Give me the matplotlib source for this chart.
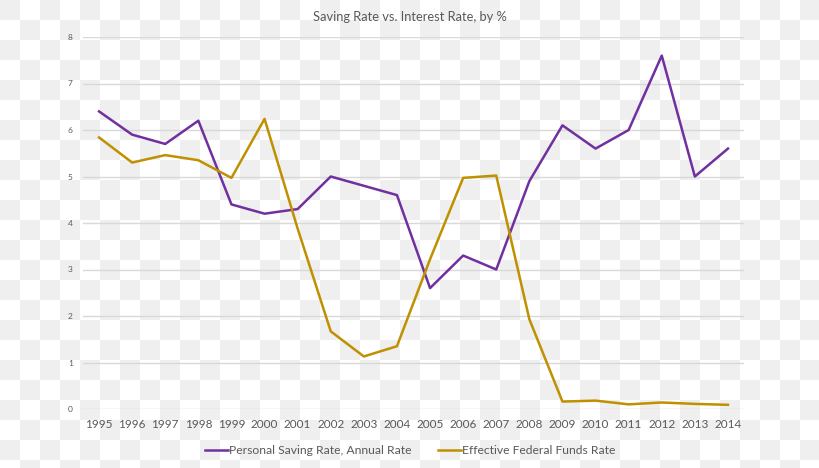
import numpy as np
import matplotlib
matplotlib.use("Agg")
import matplotlib.pyplot as plt

years = [str(y) for y in range(1995, 2015)]
saving_rate = [6.4, 5.9, 5.7, 6.2, 4.4, 4.2, 4.3, 5.0, 4.8, 4.6,
               2.6, 3.3, 3.0, 4.9, 6.1, 5.6, 6.0, 7.6, 5.0, 5.6]
fed_funds = [5.84, 5.30, 5.46, 5.35, 4.97, 6.24, 3.88, 1.67, 1.13, 1.35,
             3.22, 4.97, 5.02, 1.93, 0.16, 0.18, 0.10, 0.14, 0.11, 0.09]
y_ticks = [0, 1, 2, 3, 4, 5, 6, 7, 8]

plt.rcParams["font.family"] = ["Lato", "DejaVu Sans"]

W, H = 820, 468
fig = plt.figure(figsize=(W / 100, H / 100), dpi=100)

# checkerboard backdrop (transparency pattern seen in the reference)
bg = fig.add_axes([0, 0, 1, 1], zorder=-10)
cell = 20
ny, nx = int(np.ceil(H / cell)), int(np.ceil(W / cell))
board = (np.add.outer(np.arange(ny), np.arange(nx)) % 2 == 0)
bg.imshow(np.where(board, 0.937, 1.0), cmap="gray", vmin=0, vmax=1,
          extent=(0, nx * cell, ny * cell, 0), interpolation="nearest")
bg.set_xlim(0, W)
bg.set_ylim(H, 0)
bg.axis("off")

left, right, top, bottom = 82.5, 744.5, 37, 409
ax = fig.add_axes([left / W, 1 - bottom / H, (right - left) / W, (bottom - top) / H])
ax.patch.set_alpha(0)

x = np.arange(len(years))
ax.plot(x, saving_rate, color="#7030A0", lw=1.8, label="Personal Saving Rate, Annual Rate")
ax.plot(x, fed_funds, color="#BF9000", lw=1.8, label="Effective Federal Funds Rate")

ax.set_xlim(-0.5, len(years) - 0.5)
ax.set_ylim(0, 8)
ax.set_yticks(y_ticks)
ax.set_yticklabels([str(t) for t in y_ticks], fontsize=6, color="#595959")
ax.set_xticks(x)
ax.set_xticklabels(years, fontsize=8.5, color="#595959")
ax.tick_params(axis="both", length=0)
ax.tick_params(axis="y", pad=7)
ax.tick_params(axis="x", pad=7)
ax.grid(axis="y", color="#d9d9d9", lw=1)
ax.set_axisbelow(True)
for s in ax.spines.values():
    s.set_visible(False)

fig.text(0.5, 1 - 17 / H, "Saving Rate vs. Interest Rate, by %", ha="center", va="center",
         fontsize=9.3, color="#595959")

leg = fig.legend(loc="center", bbox_to_anchor=(0.5, 1 - 451 / H), ncol=2, frameon=False,
                 fontsize=8.7, handlelength=1.9, handletextpad=0.1, columnspacing=2.2)
for t in leg.get_texts():
    t.set_color("#595959")

fig.savefig("out.png", dpi=100)
